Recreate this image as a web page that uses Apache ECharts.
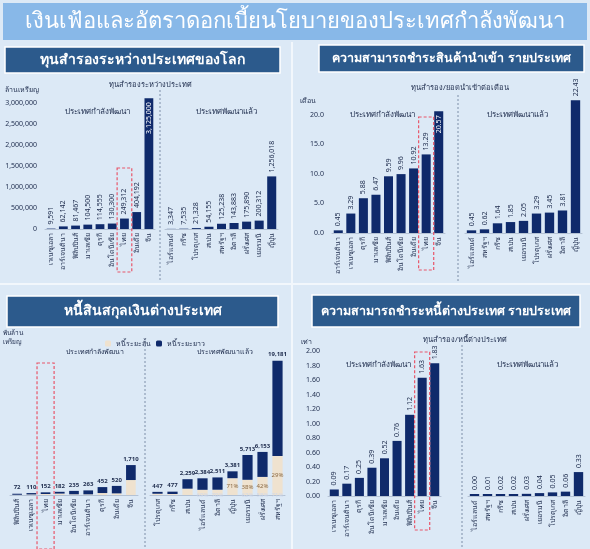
<!DOCTYPE html>
<html lang="th">
<head>
<meta charset="UTF-8">
<title>เงินเฟ้อและอัตราดอกเบี้ยนโยบาย</title>
<script src="https://cdn.jsdelivr.net/npm/echarts@6/dist/echarts.min.js"></script>
<style>
  html, body { margin: 0; padding: 0; background: #dce9f6; }
  #main { width: 590px; height: 549px; }
</style>
</head>
<body>
<div id="main"></div>
<script>
// ทุนสำรองระหว่างประเทศ (ล้านเหรียญ)
const resDevCats = ['เวเนซุเอลา', 'อาร์เจนตินา', 'ฟิลิปปินส์', 'มาเลเซีย', 'ตุรกี', 'อินโดนีเซีย', 'ไทย', 'อินเดีย', 'จีน'];
const resDevVals = [9591, 62142, 81467, 104500, 114555, 130300, 249312, 404192, 3125000];
const resAdvCats = ['ไอร์แลนด์', 'กรีซ', 'โปรตุเกส', 'สเปน', 'สหรัฐฯ', 'อิตาลี', 'ฝรั่งเศส', 'เยอรมนี', 'ญี่ปุ่น'];
const resAdvVals = [3347, 7535, 21328, 54155, 125238, 143883, 175890, 200312, 1256018];

// ทุนสำรอง/ยอดนำเข้าต่อเดือน (เดือน)
const impDevCats = ['อาร์เจนตินา', 'เวเนซุเอลา', 'ตุรกี', 'มาเลเซีย', 'ฟิลิปปินส์', 'อินโดนีเซีย', 'อินเดีย', 'ไทย', 'จีน'];
const impDevVals = [0.45, 3.29, 5.88, 6.47, 9.59, 9.96, 10.92, 13.29, 20.57];
const impAdvCats = ['ไอร์แลนด์', 'สหรัฐฯ', 'กรีซ', 'สเปน', 'เยอรมนี', 'โปรตุเกส', 'ฝรั่งเศส', 'อิตาลี', 'ญี่ปุ่น'];
const impAdvVals = [0.45, 0.62, 1.64, 1.85, 2.05, 3.29, 3.45, 3.81, 22.43];

// หนี้สินสกุลเงินต่างประเทศ (พันล้านเหรียญ)
const debtDevCats = ['ฟิลิปปินส์', 'เวเนซุเอลา', 'ไทย', 'มาเลเซีย', 'อินโดนีเซีย', 'อาร์เจนตินา', 'ตุรกี', 'อินเดีย', 'จีน'];
const debtDevTotal = [72, 110, 152, 182, 235, 263, 452, 520, 1710];
const debtDevShort = [14, 31, 57, 82, 40, 38, 112, 93, 855];
const debtDevLong = [58, 79, 95, 100, 195, 225, 340, 427, 855];
const debtAdvCats = ['โปรตุเกส', 'กรีซ', 'สเปน', 'ไอร์แลนด์', 'อิตาลี', 'ญี่ปุ่น', 'เยอรมนี', 'ฝรั่งเศส', 'สหรัฐฯ'];
const debtAdvTotal = [447, 477, 2259, 2384, 2511, 3381, 5713, 6153, 19181];
const debtAdvShort = [179, 143, 904, 739, 753, 2401, 2171, 2584, 5562];
const debtAdvLong = [268, 334, 1355, 1645, 1758, 980, 3542, 3569, 13619];

// ทุนสำรอง/หนี้ต่างประเทศ (เท่า)
const covDevCats = ['เวเนซุเอลา', 'อาร์เจนตินา', 'ตุรกี', 'อินโดนีเซีย', 'มาเลเซีย', 'อินเดีย', 'ฟิลิปปินส์', 'ไทย', 'จีน'];
const covDevVals = [0.09, 0.17, 0.25, 0.39, 0.52, 0.76, 1.12, 1.63, 1.83];
const covAdvCats = ['ไอร์แลนด์', 'สหรัฐฯ', 'กรีซ', 'สเปน', 'ฝรั่งเศส', 'เยอรมนี', 'โปรตุเกส', 'อิตาลี', 'ญี่ปุ่น'];
const covAdvVals = [0.00, 0.01, 0.02, 0.02, 0.03, 0.04, 0.05, 0.06, 0.33];

const FONT = 'Noto Sans, DejaVu Sans, sans-serif';
const NAVY = '#0f2a6b';
const BEIGE = '#efe2cf';
const TXT = '#1d2b4c';

const chart = echarts.init(document.getElementById('main'));

// grid layout: 0/1 reserves, 2/3 import cover, 4/5 fx debt, 6/7 debt cover
const grids = [
  { left: 45, top: 95, width: 110, height: 134 },
  { left: 165, top: 95, width: 113, height: 134 },
  { left: 332, top: 97, width: 113, height: 136 },
  { left: 465, top: 97, width: 117, height: 136 },
  { left: 10, top: 355, width: 128, height: 140 },
  { left: 150, top: 355, width: 135, height: 140 },
  { left: 328, top: 351, width: 113, height: 145 },
  { left: 468, top: 351, width: 117, height: 145 }
];

function xAx(gi, cats) {
  return {
    type: 'category', gridIndex: gi, data: cats,
    axisLine: { lineStyle: { color: '#b4c2d4' } },
    axisTick: { show: false },
    axisLabel: { rotate: 90, fontSize: 7, color: TXT, margin: 4, interval: 0, fontFamily: FONT }
  };
}

function yAx(gi, max, interval, showLabels, fmt, showMax) {
  return {
    type: 'value', gridIndex: gi, min: 0, max: max, interval: interval,
    splitLine: { show: false },
    axisLine: { show: false }, axisTick: { show: false },
    axisLabel: { show: showLabels, fontSize: 7, color: TXT, margin: 8, showMaxLabel: !!showMax, formatter: fmt, fontFamily: FONT }
  };
}

const topLabel = {
  show: true, position: 'top', rotate: 90, align: 'left', verticalAlign: 'middle',
  distance: 4, fontSize: 7, color: TXT, fontFamily: FONT
};

function barSeries(gi, vals, fmt, insideIdx, extra) {
  return Object.assign({
    type: 'bar', xAxisIndex: gi, yAxisIndex: gi,
    barWidth: '72%',
    itemStyle: { color: NAVY },
    label: Object.assign({}, topLabel, { formatter: p => fmt(p.value) }),
    data: vals.map((v, i) => i === insideIdx
      ? { value: v, label: { position: 'insideTop', align: 'right', color: '#ffffff' } }
      : v)
  }, extra || {});
}

const comma = v => Number(v).toLocaleString('en-US');
const f2 = v => Number(v).toFixed(2);

function debtSeries(gi, shortVals, longVals, totals, showPct) {
  return [
    {
      name: 'หนี้ระยะสั้น', type: 'bar', stack: 'd' + gi, xAxisIndex: gi, yAxisIndex: gi,
      barWidth: '68%', itemStyle: { color: BEIGE },
      label: {
        show: showPct, position: 'inside', fontSize: 6, color: '#8a6a45', fontFamily: FONT,
        formatter: p => p.value >= 1500 ? Math.round(p.value / totals[p.dataIndex] * 100) + '%' : ''
      },
      data: shortVals
    },
    {
      name: 'หนี้ระยะยาว', type: 'bar', stack: 'd' + gi, xAxisIndex: gi, yAxisIndex: gi,
      barWidth: '68%', itemStyle: { color: NAVY },
      label: {
        show: true, position: 'top', fontSize: 6, fontWeight: 'bold', color: TXT, fontFamily: FONT, distance: 3,
        formatter: p => comma(totals[p.dataIndex])
      },
      data: longVals
    },
    {
      type: 'bar', stack: 'p' + gi, xAxisIndex: gi, yAxisIndex: gi, barGap: '-100%',
      barWidth: '68%', itemStyle: { color: 'rgba(0,0,0,0)' }, silent: true,
      label: {
        show: showPct, position: 'inside', fontSize: 6, color: '#cfd8ea', fontFamily: FONT,
        formatter: p => longVals[p.dataIndex] >= 1500 ? Math.round(longVals[p.dataIndex] / totals[p.dataIndex] * 100) + '%' : ''
      },
      data: shortVals.map(() => ({ value: 0 }))
    }
  ];
}

function txt(x, y, s, size, opts) {
  return {
    type: 'text', x: x, y: y, silent: true,
    style: Object.assign({ text: s, fontSize: size, fill: TXT, fontFamily: FONT, align: 'center', verticalAlign: 'middle' }, opts || {})
  };
}

function header(x, y, w, h, s, size) {
  return [
    { type: 'rect', shape: { x: x, y: y, width: w, height: h }, style: { fill: '#2c5a8c', stroke: '#ffffff', lineWidth: 1.5 }, silent: true },
    txt(x + w / 2, y + h / 2, s, size, { fill: '#ffffff', fontWeight: 'bold' })
  ];
}

function divider(x, y1, y2) {
  return { type: 'line', shape: { x1: x, y1: y1, x2: x, y2: y2 }, style: { stroke: '#7c8ea8', lineWidth: 1, lineDash: [2, 2] }, silent: true };
}

const graphics = [].concat(
  [
    { type: 'rect', shape: { x: 0, y: 0, width: 590, height: 549 }, style: { fill: '#dce9f6' }, silent: true },
    { type: 'line', shape: { x1: 292, y1: 42, x2: 292, y2: 549 }, style: { stroke: '#f2f7fc', lineWidth: 2 }, silent: true },
    { type: 'line', shape: { x1: 0, y1: 284, x2: 590, y2: 284 }, style: { stroke: '#f2f7fc', lineWidth: 2 }, silent: true },
    { type: 'rect', shape: { x: 3, y: 3, width: 584, height: 37 }, style: { fill: '#88b8e8' }, silent: true },
    txt(295, 22, 'เงินเฟ้อและอัตราดอกเบี้ยนโยบายของประเทศกำลังพัฒนา', 22, { fill: '#ffffff' })
  ],
  header(5, 47, 275, 26, 'ทุนสำรองระหว่างประเทศของโลก', 14),
  header(319, 45, 265, 27, 'ความสามารถชำระสินค้านำเข้า รายประเทศ', 12.5),
  header(7, 296, 271, 31, 'หนี้สินสกุลเงินต่างประเทศ', 14),
  header(312, 295, 268, 32, 'ความสามารถชำระหนี้ต่างประเทศ รายประเทศ', 12.5),
  [
    // panel 1
    txt(150, 85, 'ทุนสำรองระหว่างประเทศ', 7.5),
    txt(5, 90, 'ล้านเหรียญ', 7, { align: 'left' }),
    txt(97, 112, 'ประเทศกำลังพัฒนา', 8),
    txt(226, 112, 'ประเทศพัฒนาแล้ว', 8),
    divider(160, 90, 282),
    // panel 2
    txt(460, 88, 'ทุนสำรอง/ยอดนำเข้าต่อเดือน', 7.5),
    txt(300, 101, 'เดือน', 7, { align: 'left' }),
    txt(382, 115, 'ประเทศกำลังพัฒนา', 8),
    txt(517, 115, 'ประเทศพัฒนาแล้ว', 8),
    divider(458, 95, 282),
    // panel 3
    txt(3, 338, 'พันล้าน\nเหรียญ', 6.5, { align: 'left', lineHeight: 9 }),
    txt(95, 352, 'ประเทศกำลังพัฒนา', 7),
    txt(225, 352, 'ประเทศพัฒนาแล้ว', 7),
    divider(145, 345, 549),
    // panel 4
    txt(465, 340, 'ทุนสำรอง/หนี้ต่างประเทศ', 7.5),
    txt(301, 342, 'เท่า', 7, { align: 'left' }),
    txt(378, 365, 'ประเทศกำลังพัฒนา', 8),
    txt(527, 365, 'ประเทศพัฒนาแล้ว', 8),
    divider(462, 345, 549)
  ]
);

const option = {
  animation: false,
  textStyle: { fontFamily: FONT },
  graphic: graphics,
  grid: grids,
  legend: {
    data: ['หนี้ระยะสั้น', 'หนี้ระยะยาว'],
    left: 100, top: 335, itemWidth: 6, itemHeight: 6, itemGap: 5,
    textStyle: { fontSize: 7, color: TXT, fontFamily: FONT }
  },
  xAxis: [
    xAx(0, resDevCats), xAx(1, resAdvCats),
    xAx(2, impDevCats), xAx(3, impAdvCats),
    xAx(4, debtDevCats), xAx(5, debtAdvCats),
    xAx(6, covDevCats), xAx(7, covAdvCats)
  ],
  yAxis: [
    yAx(0, 3200000, 500000, true, v => comma(v)),
    yAx(1, 3200000, 500000, false),
    yAx(2, 23, 5, true, v => v.toFixed(1)),
    yAx(3, 23, 5, false),
    yAx(4, 8000, 2000, false),
    yAx(5, 20000, 5000, false),
    yAx(6, 2, 0.2, true, v => v.toFixed(2), true),
    yAx(7, 2, 0.2, false)
  ],
  series: [].concat(
    [
      barSeries(0, resDevVals, comma, 8),
      barSeries(1, resAdvVals, comma, -1),
      barSeries(2, impDevVals, f2, 8),
      barSeries(3, impAdvVals, f2, -1)
    ],
    debtSeries(4, debtDevShort, debtDevLong, debtDevTotal, false),
    debtSeries(5, debtAdvShort, debtAdvLong, debtAdvTotal, true),
    [
      barSeries(6, covDevVals, f2, -1),
      barSeries(7, covAdvVals, f2, -1, { barMinHeight: 2 })
    ]
  )
};

chart.setOption(option);

// red dashed boxes around ไทย
function thaiBox(gi, cats, y1, y2, id) {
  const x = chart.convertToPixel({ xAxisIndex: gi }, 'ไทย');
  const band = grids[gi].width / cats.length;
  return {
    id: id, type: 'rect', silent: true, z: 100,
    shape: { x: x - band * 0.6, y: y1, width: band * 1.2, height: y2 - y1 },
    style: { fill: 'none', stroke: '#e8566a', lineWidth: 1.2, lineDash: [3, 2] }
  };
}

chart.setOption({
  graphic: graphics.concat([
    thaiBox(0, resDevCats, 168, 272, 'b0'),
    thaiBox(2, impDevCats, 117, 270, 'b2'),
    thaiBox(4, debtDevCats, 363, 549, 'b4'),
    thaiBox(6, covDevCats, 352, 530, 'b6')
  ])
});
</script>
</body>
</html>
